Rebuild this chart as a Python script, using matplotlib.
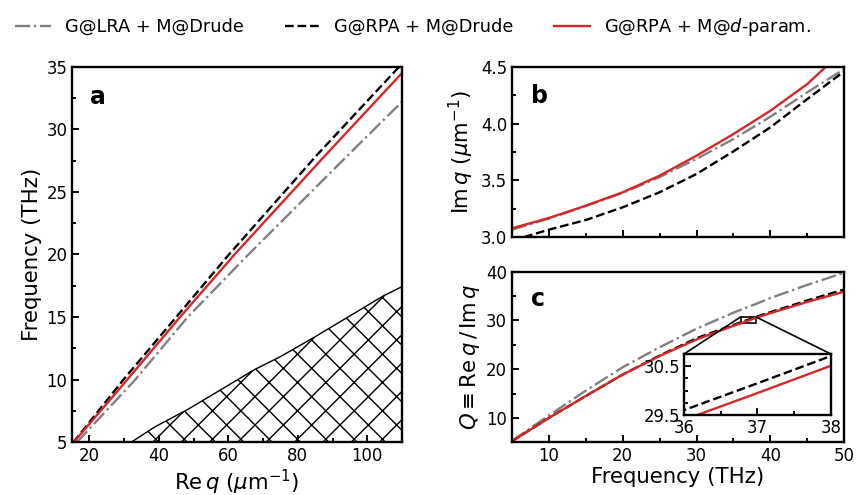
import numpy as np
import matplotlib
matplotlib.use('Agg')
import matplotlib.pyplot as plt
from matplotlib.ticker import MultipleLocator
from mpl_toolkits.axes_grid1.inset_locator import mark_inset

# panel a: frequency (THz) against Re q (1/um)
freq_a = [5, 10, 15, 20, 28, 35]
req_lra_drude = [16.4, 33.2, 48.3, 65.8, 94.7, 120.2]
req_rpa_drude = [15.4, 29.8, 45.0, 60.2, 85.7, 109.2]
req_rpa_dparam = [15.5, 30.9, 46.1, 61.8, 88.2, 111.7]

# hatched region boundary in panel a
hatch_q = [32, 39, 48.5, 67.5, 75, 85, 104.6, 110]
hatch_f = [5, 6.25, 7.65, 10.8, 11.84, 13.43, 16.69, 17.43]

# panel b: Im q against frequency
freq_b = [5, 10, 15, 20, 25, 30, 35, 40, 45, 50]
imq_lra_drude = [3.067, 3.165, 3.275, 3.39, 3.53, 3.69, 3.864, 4.06, 4.275, 4.48]
imq_rpa_drude = [2.97, 3.067, 3.152, 3.264, 3.396, 3.557, 3.756, 3.967, 4.216, 4.46]
imq_rpa_dparam = [3.079, 3.17, 3.278, 3.396, 3.542, 3.718, 3.908, 4.113, 4.348, 4.65]

# panel c: quality factor Q = Re q / Im q
freq_c = [5, 10, 15, 20, 25, 30, 35, 36, 37, 38, 40, 45, 50]
Q_lra_drude = [5.3, 10.5, 15.6, 20.4, 24.5, 28.3, 31.6, 32.2, 32.8, 33.35, 34.6, 37.3, 39.8]
Q_rpa_drude = [5.2, 10.0, 14.5, 18.9, 22.8, 26.35, 29.1, 29.6, 30.15, 30.71, 31.7, 34.1, 36.35]
Q_rpa_dparam = [5.2, 10.0, 14.5, 18.9, 22.7, 26.1, 28.9, 29.4, 29.95, 30.51, 31.5, 33.8, 35.9]

labels = ['G@LRA + M@Drude', 'G@RPA + M@Drude', 'G@RPA + M@$d$-param.']

DPI = 170
plt.rcParams['hatch.linewidth'] = 0.6
plt.rcParams['axes.linewidth'] = 1.0

styles = [dict(color='gray', ls='-.', lw=1.0),
          dict(color='k', ls='--', lw=1.0),
          dict(color='#d62728', ls='-', lw=1.0)]

fig = plt.figure(figsize=(857 / DPI, 495 / DPI), dpi=DPI)
ax_a = fig.add_axes([0.0840, 0.1065, 0.3851, 0.7588])
ax_b = fig.add_axes([0.5974, 0.5206, 0.3877, 0.3446])
ax_c = fig.add_axes([0.5974, 0.1065, 0.3877, 0.3446], sharex=ax_b)
ax_in = fig.add_axes([0.7981, 0.1616, 0.1715, 0.1232])


def style_ticks(ax, size=7):
    ax.tick_params(which='both', direction='in', top=False, right=False,
                   labelsize=size, pad=2)
    ax.tick_params(which='major', length=3, width=0.8)
    ax.tick_params(which='minor', length=1.8, width=0.8)


# panel a
lines = []
for q, st in zip([req_lra_drude, req_rpa_drude, req_rpa_dparam], styles):
    ln, = ax_a.plot(q, freq_a, **st)
    lines.append(ln)
ax_a.fill_between(hatch_q, 5, hatch_f, facecolor='none', edgecolor='k',
                  hatch='xx', lw=0.6)
ax_a.set_xlim(15, 110)
ax_a.set_ylim(5, 35)
ax_a.xaxis.set_major_locator(MultipleLocator(20))
ax_a.xaxis.set_minor_locator(MultipleLocator(10))
ax_a.yaxis.set_major_locator(MultipleLocator(5))
ax_a.yaxis.set_minor_locator(MultipleLocator(2.5))
style_ticks(ax_a)
ax_a.set_xlabel(r'$\mathrm{Re}\,q$ ($\mu$m$^{-1}$)', fontsize=9, labelpad=1)
ax_a.set_ylabel('Frequency (THz)', fontsize=9, labelpad=2)
ax_a.text(0.055, 0.90, 'a', transform=ax_a.transAxes, fontsize=10,
          fontweight='bold', va='baseline')

# panel b
for im, st in zip([imq_lra_drude, imq_rpa_drude, imq_rpa_dparam], styles):
    ax_b.plot(freq_b, im, **st)
ax_b.set_ylim(3.0, 4.5)
ax_b.yaxis.set_major_locator(MultipleLocator(0.5))
ax_b.yaxis.set_minor_locator(MultipleLocator(0.25))
style_ticks(ax_b)
ax_b.tick_params(labelbottom=False)
ax_b.set_ylabel(r'$\mathrm{Im}\,q$ ($\mu$m$^{-1}$)', fontsize=9, labelpad=2)
ax_b.text(0.056, 0.79, 'b', transform=ax_b.transAxes, fontsize=10,
          fontweight='bold', va='baseline')

# panel c
for Q, st in zip([Q_lra_drude, Q_rpa_drude, Q_rpa_dparam], styles):
    ax_c.plot(freq_c, Q, **st)
ax_c.set_xlim(5, 50)
ax_c.set_ylim(5, 40)
ax_c.xaxis.set_major_locator(MultipleLocator(10))
ax_c.xaxis.set_minor_locator(MultipleLocator(5))
ax_c.yaxis.set_major_locator(MultipleLocator(10))
ax_c.yaxis.set_minor_locator(MultipleLocator(5))
style_ticks(ax_c)
ax_c.set_xlabel('Frequency (THz)', fontsize=9, labelpad=1)
ax_c.set_ylabel(r'$Q\equiv\mathrm{Re}\,q\,/\,\mathrm{Im}\,q$', fontsize=9, labelpad=2)
ax_c.text(0.058, 0.797, 'c', transform=ax_c.transAxes, fontsize=10,
          fontweight='bold', va='baseline')

# inset of panel c
for Q, st in zip([Q_rpa_drude, Q_rpa_dparam], styles[1:]):
    ax_in.plot(freq_c, Q, **st)
ax_in.set_xlim(36, 38)
ax_in.set_ylim(29.5, 30.75)
ax_in.set_xticks([36, 37, 38])
ax_in.set_xticks([36.5, 37.5], minor=True)
ax_in.set_yticks([29.5, 30.5])
ax_in.set_yticks([29.75, 30.0, 30.25], minor=True)
style_ticks(ax_in, size=7)
ax_in.tick_params(pad=1.5)
mark_inset(ax_c, ax_in, loc1=1, loc2=2, fc='none', ec='k', lw=0.7)

fig.legend(lines, labels, loc='upper center', bbox_to_anchor=(0.482, 1.0),
           ncol=3, frameon=False, fontsize=7.5, columnspacing=2.3,
           handlelength=2, handletextpad=0.8)

fig.savefig('out.png', dpi=DPI)
